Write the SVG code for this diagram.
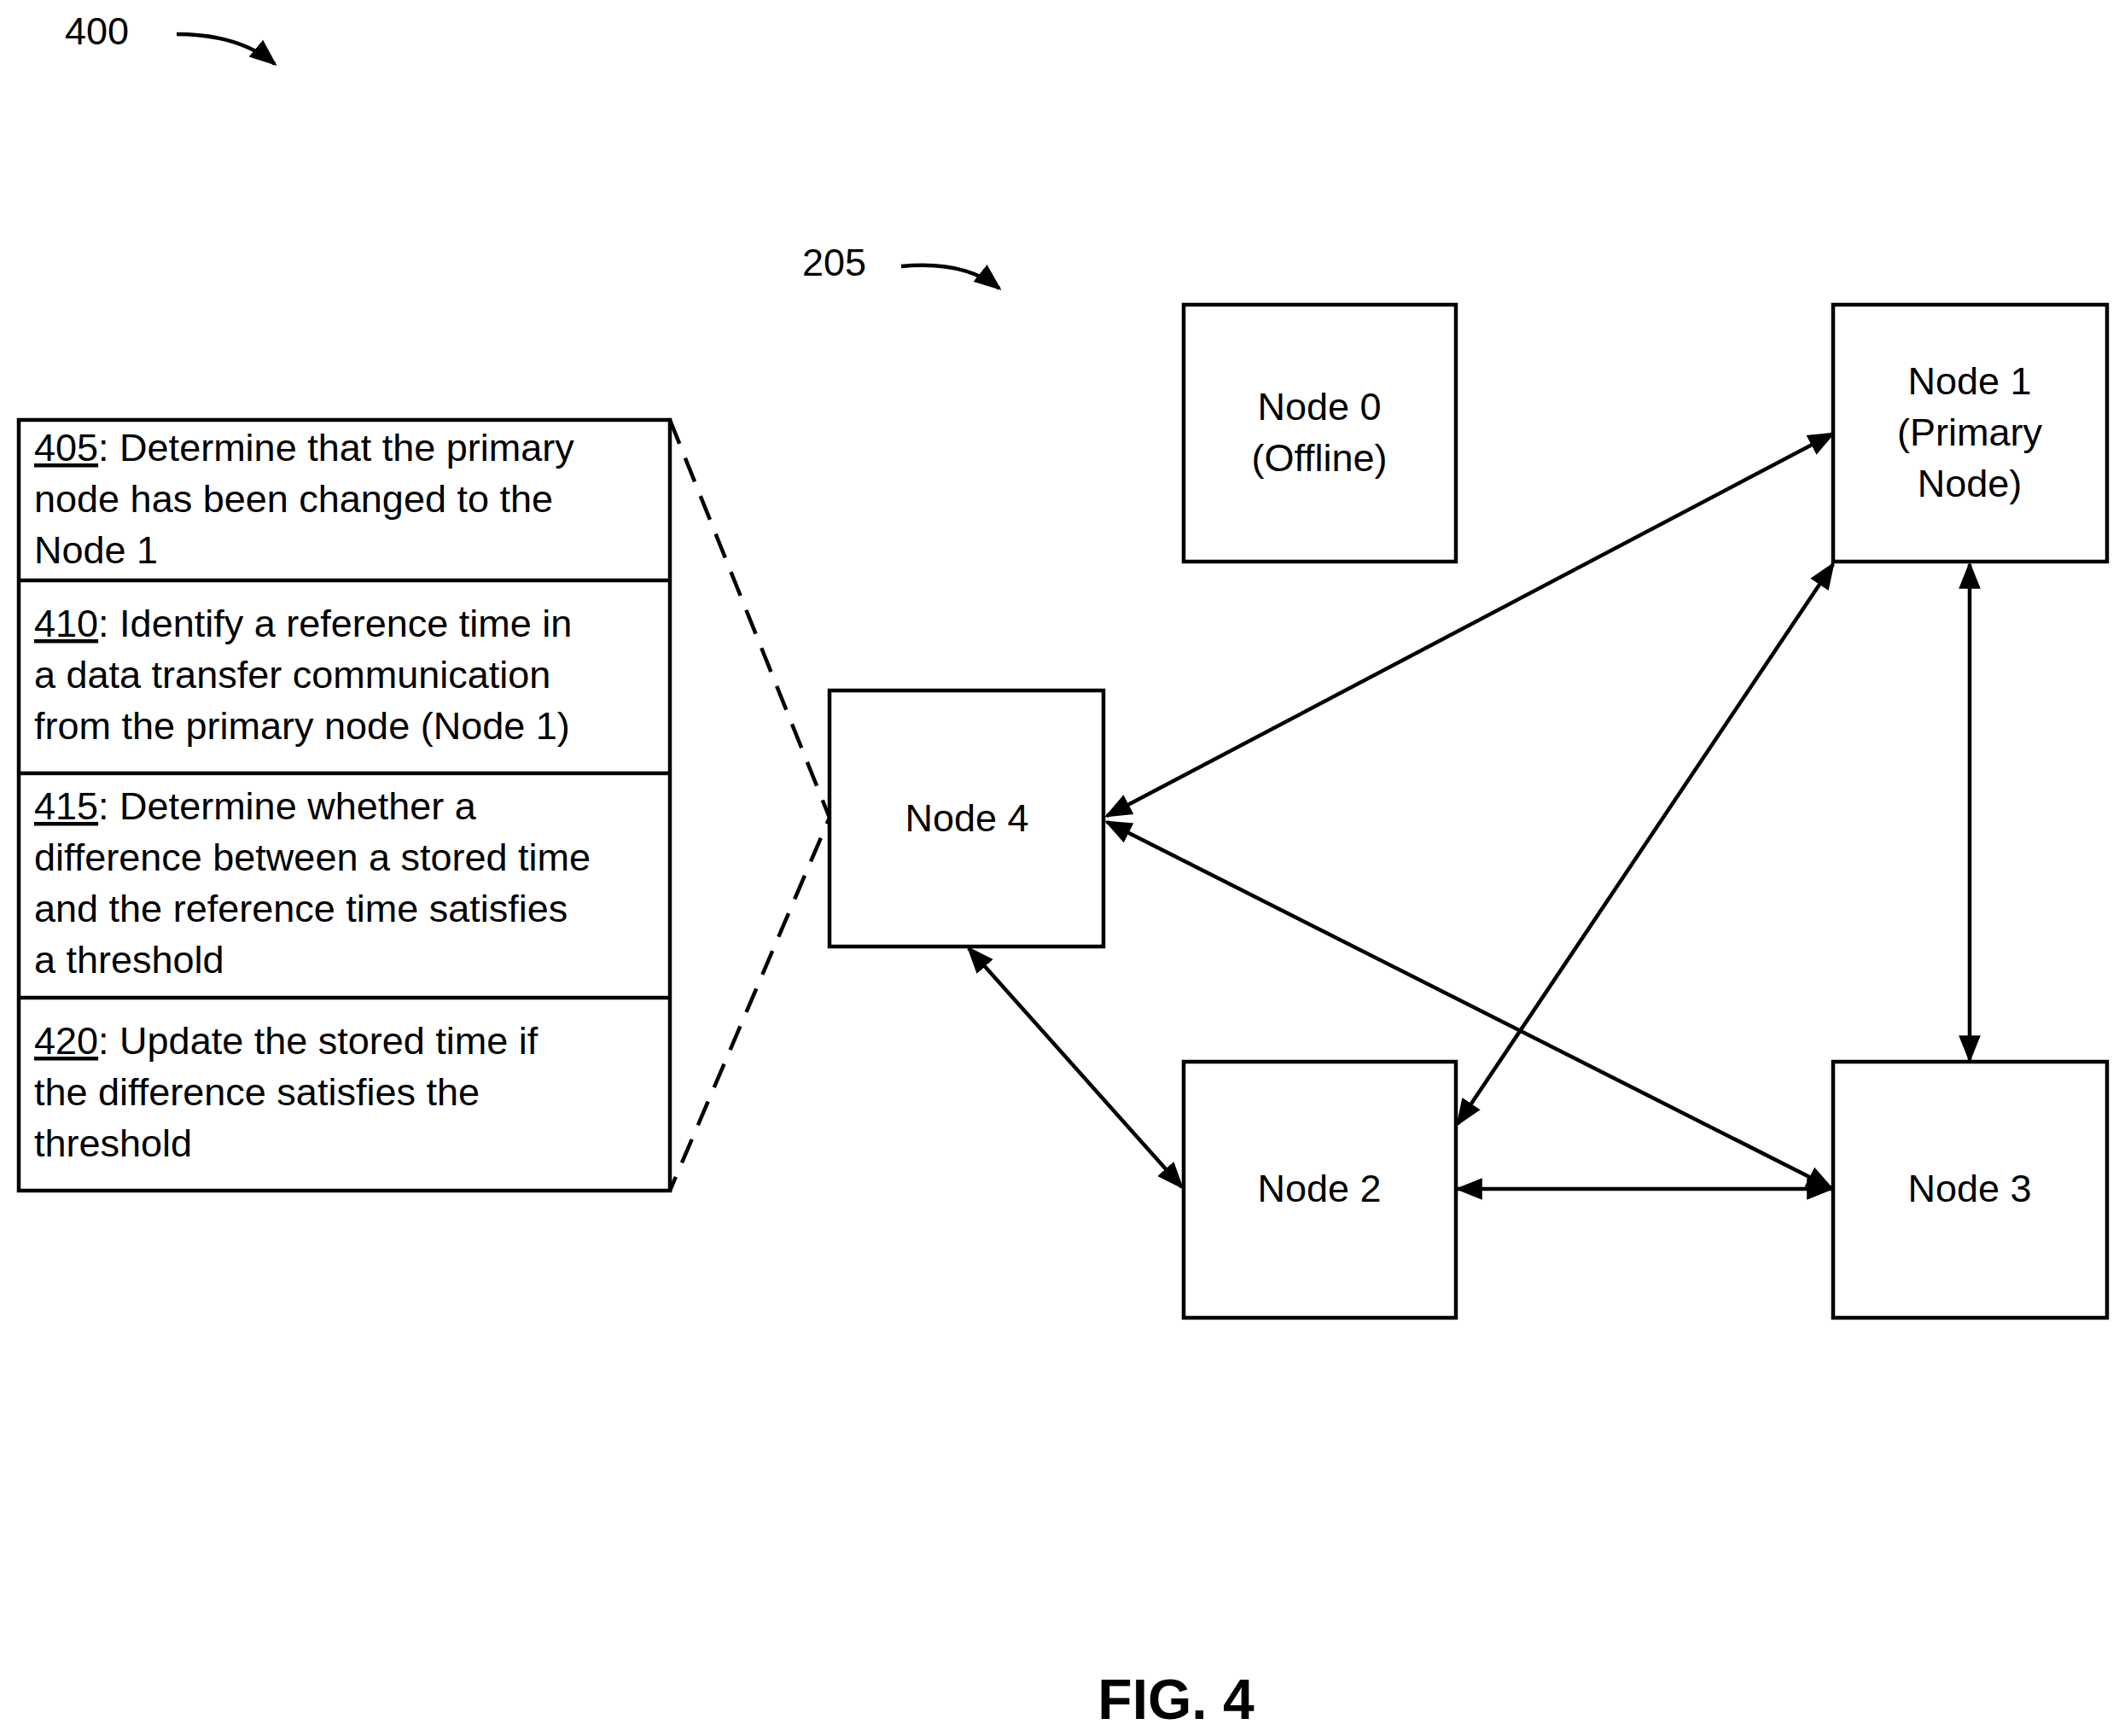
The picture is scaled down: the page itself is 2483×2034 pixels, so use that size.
<svg xmlns="http://www.w3.org/2000/svg" width="2483" height="2034" viewBox="0 0 2483 2034">
<style>
text{font-family:"Liberation Sans",Arial,sans-serif;font-size:45px;fill:#000}
.box{fill:#fff;stroke:#000;stroke-width:4.5}
.c{text-anchor:middle}
.ln{stroke:#000;stroke-width:4.5;fill:none}
</style>
<defs>
<marker id="a" viewBox="0 0 10 10" refX="9" refY="5" markerWidth="8" markerHeight="8" markerUnits="userSpaceOnUse" orient="auto-start-reverse"><path d="M0,1 L10,5 L0,9 z" fill="#000"/></marker>
<marker id="b" viewBox="0 0 10 10" refX="9" refY="5" markerWidth="32" markerHeight="32" markerUnits="userSpaceOnUse" orient="auto-start-reverse"><path d="M0,1 L10,5 L0,9 z" fill="#000"/></marker>
</defs>
<text x="76" y="52">400</text>
<path class="ln" d="M207,40 Q280,40 322,75" marker-end="url(#b)"/>
<text x="940" y="323">205</text>
<path class="ln" d="M1056,312 Q1130,305 1171,338" marker-end="url(#b)"/>
<g id="connectors">
<path class="ln" d="M785,492 L972,958 L785,1395" stroke-dasharray="30,18"/>
<line class="ln" x1="1297" y1="956" x2="2148" y2="508" marker-start="url(#b)" marker-end="url(#b)"/>
<line class="ln" x1="2148" y1="661" x2="1708" y2="1317" marker-start="url(#b)" marker-end="url(#b)"/>
<line class="ln" x1="2308" y1="661" x2="2308" y2="1242" marker-start="url(#b)" marker-end="url(#b)"/>
<line class="ln" x1="1297" y1="963" x2="2146" y2="1392" marker-start="url(#b)" marker-end="url(#b)"/>
<line class="ln" x1="1135" y1="1111" x2="1385" y2="1391" marker-start="url(#b)" marker-end="url(#b)"/>
<line class="ln" x1="1708" y1="1393" x2="2146" y2="1393" marker-start="url(#b)" marker-end="url(#b)"/>
</g>
<g id="steps">
<rect class="box" x="22" y="492" width="763" height="903"/>
<line class="ln" x1="22" y1="680" x2="785" y2="680"/>
<line class="ln" x1="22" y1="906" x2="785" y2="906"/>
<line class="ln" x1="22" y1="1169" x2="785" y2="1169"/>
<text x="40" y="540"><tspan text-decoration="underline">405</tspan>: Determine that the primary</text>
<text x="40" y="600">node has been changed to the</text>
<text x="40" y="660">Node 1</text>
<text x="40" y="746"><tspan text-decoration="underline">410</tspan>: Identify a reference time in</text>
<text x="40" y="806">a data transfer communication</text>
<text x="40" y="866">from the primary node (Node 1)</text>
<text x="40" y="960"><tspan text-decoration="underline">415</tspan>: Determine whether a</text>
<text x="40" y="1020">difference between a stored time</text>
<text x="40" y="1080">and the reference time satisfies</text>
<text x="40" y="1140">a threshold</text>
<text x="40" y="1235"><tspan text-decoration="underline">420</tspan>: Update the stored time if</text>
<text x="40" y="1295">the difference satisfies the</text>
<text x="40" y="1355">threshold</text>
</g>
<g id="node0"><rect class="box" x="1387" y="357" width="319" height="301"/><text class="c" x="1546" y="492">Node 0</text><text class="c" x="1546" y="552">(Offline)</text></g>
<g id="node1"><rect class="box" x="2148" y="357" width="321" height="301"/><text class="c" x="2308" y="462">Node 1</text><text class="c" x="2308" y="522">(Primary</text><text class="c" x="2308" y="582">Node)</text></g>
<g id="node4"><rect class="box" x="972" y="809" width="321" height="300"/><text class="c" x="1133" y="974">Node 4</text></g>
<g id="node2"><rect class="box" x="1387" y="1244" width="319" height="300"/><text class="c" x="1546" y="1408">Node 2</text></g>
<g id="node3"><rect class="box" x="2148" y="1244" width="321" height="300"/><text class="c" x="2308" y="1408">Node 3</text></g>
<text class="c" x="1378" y="2014" style="font-size:66px;font-weight:bold">FIG. 4</text>
</svg>
